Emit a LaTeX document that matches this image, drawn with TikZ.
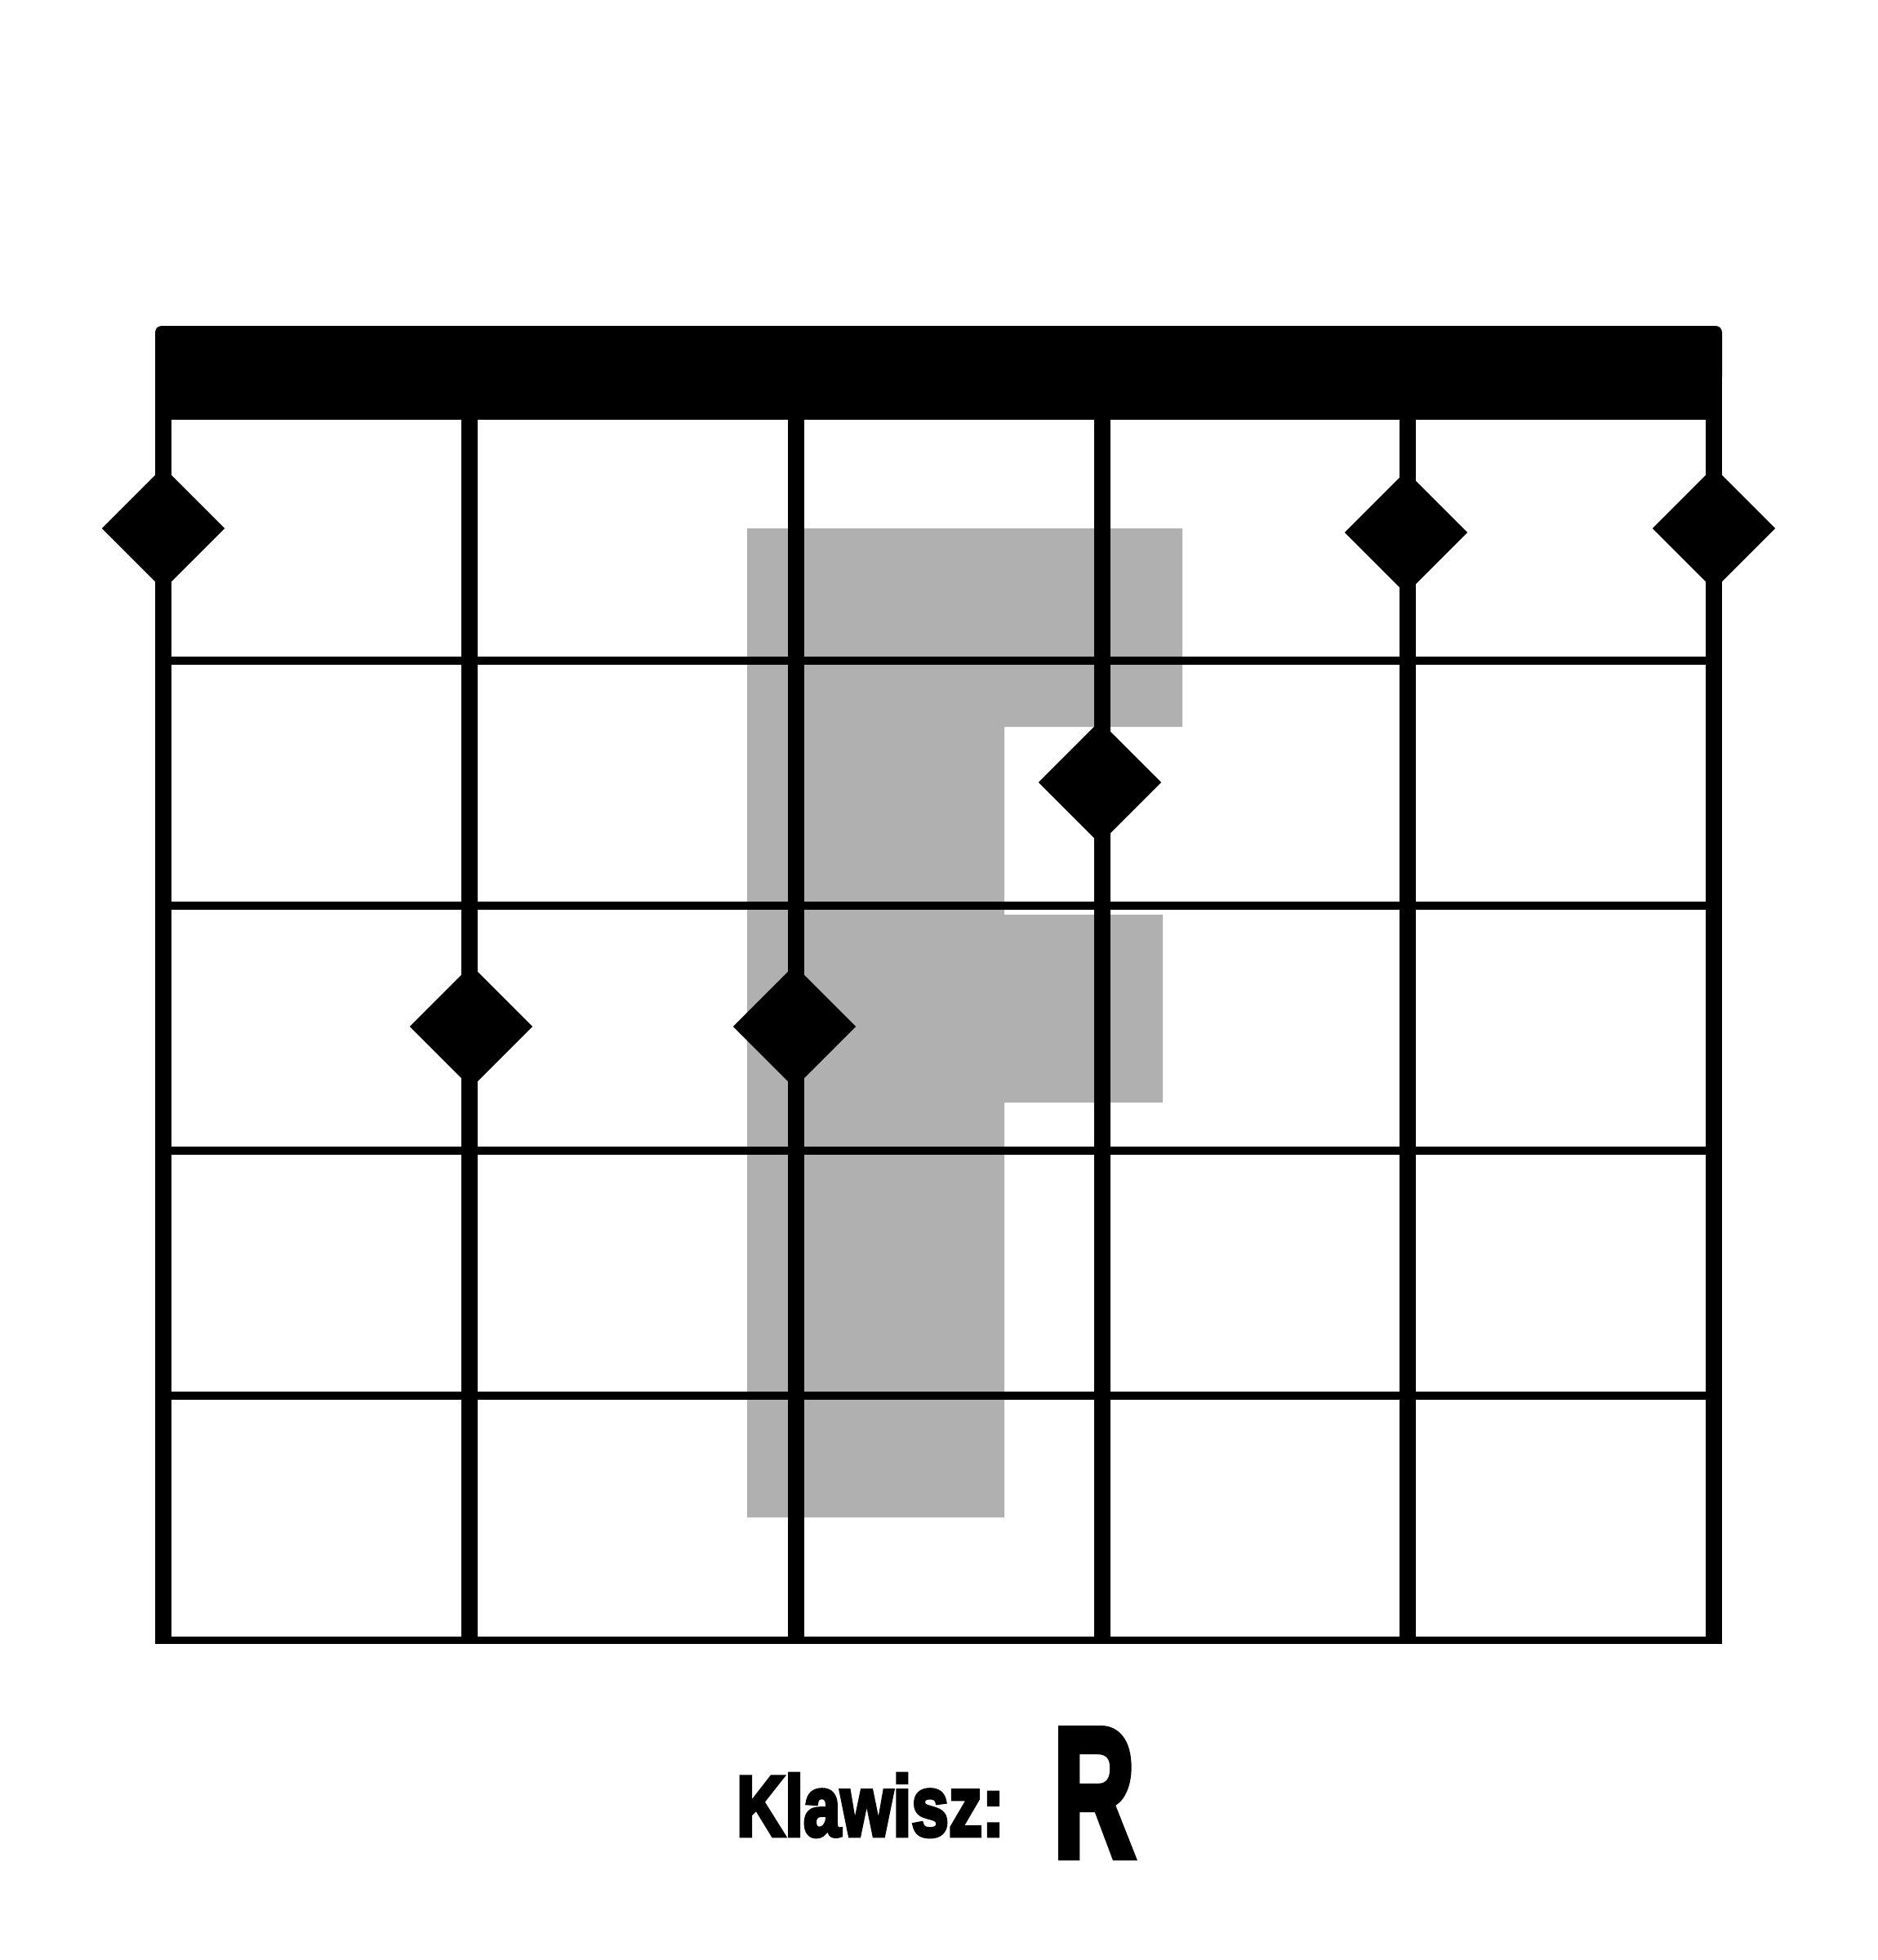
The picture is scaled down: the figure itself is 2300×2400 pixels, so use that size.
\documentclass[tikz,border=0pt]{standalone}
\usepackage{graphicx}
\usepackage{fontspec}
\usetikzlibrary{shapes.geometric}
\newfontfamily\klfont[FakeBold=4.5]{Liberation Sans}
\definecolor{lettergray}{RGB}{176,176,176}
\begin{document}
\begin{tikzpicture}[x=0.01cm,y=-0.01cm,
  stringline/.style={line width=0.2cm},
  fretline/.style={line width=0.1cm},
  lastfret/.style={line width=0.09cm},
  dot/.style={diamond, fill=black, draw=none, inner sep=0pt, outer sep=0pt,
    minimum width=1.5cm, minimum height=1.5cm, shape aspect=1},
  label/.style={anchor=base west, inner sep=0pt, outer sep=0pt}]
\useasboundingbox (0,0) rectangle (2300,2400);
\fill[white] (0,0) rectangle (2300,2400);
% grey letter shape
\fill[fill=lettergray] (915,647) -- (1448,647) -- (1448,890) -- (1230,890) -- (1230,1120)
  -- (1424,1120) -- (1424,1350) -- (1230,1350) -- (1230,1858) -- (915,1858) -- cycle;
% strings
\foreach \n/\x in {1/200,2/575,3/975,4/1349.5,5/1724,6/2099} {
  \coordinate (st\n) at (\x,430);
  \coordinate (sb\n) at (\x,2013);
  \draw[stringline] (st\n) -- (sb\n);
}
% frets
\foreach \n/\y in {1/809,2/1109,3/1409,4/1709} {
  \coordinate (fl\n) at (190,\y);
  \coordinate (fr\n) at (2109,\y);
  \draw[fretline] (fl\n) -- (fr\n);
}
\coordinate (fl5) at (190,2008.5);
\coordinate (fr5) at (2109,2008.5);
\draw[lastfret] (fl5) -- (fr5);
% nut
\fill[rounded corners=0.08cm] (190,399) rectangle (2109,470);
\fill (190,440) rectangle (2109,514);
% finger positions
\node[dot] (d1) at (200,647) {};
\node[dot] (d5) at (1722,652) {};
\node[dot] (d6) at (2099,647) {};
\node[dot] (d4) at (1347,958) {};
\node[dot] (d2) at (577,1257) {};
\node[dot] (d3) at (973,1257) {};
% caption
\node[label] (lbl) at (902,2248) {\resizebox{3.28cm}{0.76cm}{\klfont\bfseries Klawisz:}};
\node[label] (key) at (1290,2273) {\resizebox{1.0cm}{1.55cm}{\klfont\bfseries R}};
\end{tikzpicture}
\end{document}
